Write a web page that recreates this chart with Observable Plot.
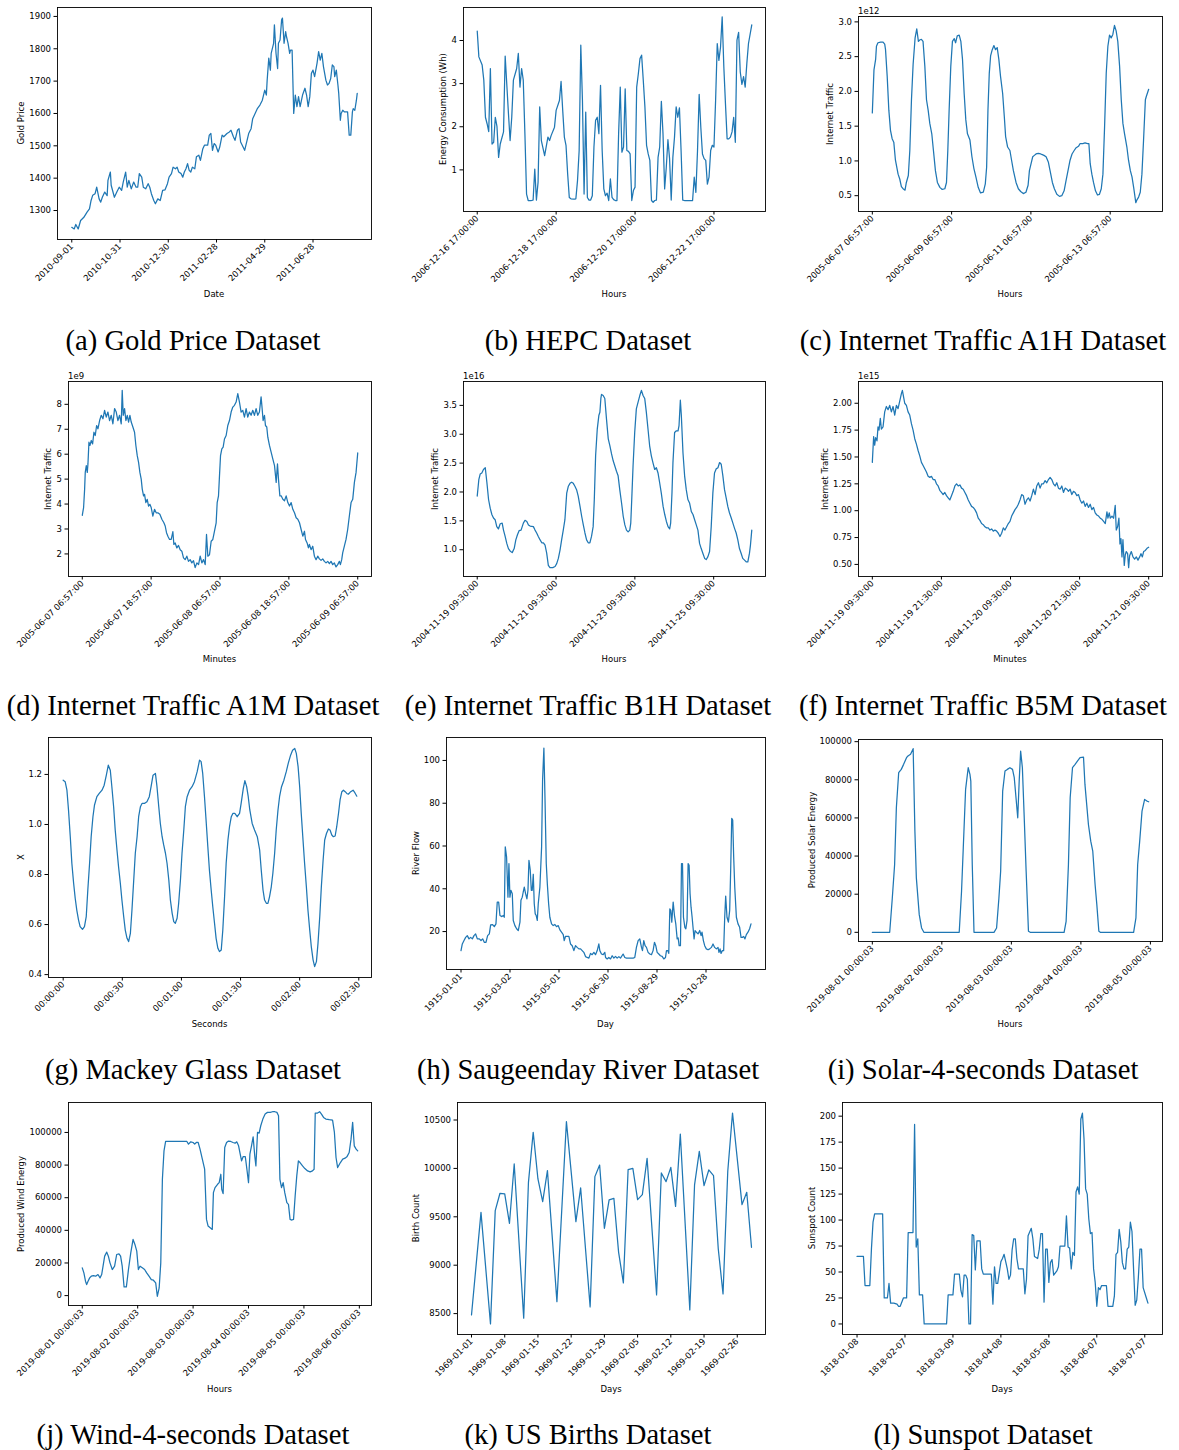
<!DOCTYPE html>
<html><head><meta charset="utf-8">
<script src="https://cdn.jsdelivr.net/npm/d3@7"></script>
<script src="https://cdn.jsdelivr.net/npm/@observablehq/plot@0.6"></script>
<style>
body{margin:0;background:#fff;}
#page{position:relative;width:1179px;height:1450px;overflow:hidden;background:#fff;}
.cap{position:absolute;width:440px;text-align:center;font-family:"Liberation Serif","Times New Roman",serif;font-size:28.6px;line-height:28px;color:#000;white-space:nowrap;}
.lbl{position:absolute;font-family:"DejaVu Sans",sans-serif;font-size:8.5px;line-height:10px;color:#000;white-space:nowrap;}
</style></head><body><div id="page"></div>
<script>
// ---------------- DATA ----------------
const goldStart = "2010-09-01";
const goldTicks = ["2010-09-01","2010-10-31","2010-12-30","2011-02-28","2011-04-29","2011-06-28"];
const goldYTicks = [1300,1400,1500,1600,1700,1800,1900];
const goldSeries = [[0,1248],[3,1243],[5,1257],[8,1243],[11,1269],[15,1279],[19,1295],[22,1305],[24,1331],[26,1347],[29,1352],[31,1372],[34,1336],[36,1326],[38,1341],[41,1357],[44,1346],[45,1393],[48,1419],[49,1378],[53,1341],[56,1357],[59,1372],[62,1362],[64,1388],[67,1419],[69,1372],[71,1393],[74,1367],[77,1388],[80,1372],[82,1372],[84,1414],[87,1403],[89,1372],[92,1367],[95,1383],[97,1372],[99,1352],[102,1331],[104,1321],[107,1336],[110,1331],[113,1362],[116,1364],[119,1383],[121,1403],[124,1414],[126,1434],[129,1429],[131,1434],[133,1419],[136,1414],[138,1403],[140,1419],[142,1429],[144,1445],[146,1424],[148,1419],[150,1434],[153,1429],[155,1466],[158,1471],[160,1455],[163,1491],[165,1502],[169,1502],[171,1533],[173,1538],[175,1486],[177,1507],[179,1502],[182,1481],[184,1496],[187,1533],[189,1528],[193,1538],[196,1543],[198,1548],[201,1528],[203,1517],[206,1548],[208,1553],[210,1512],[212,1502],[215,1486],[218,1517],[220,1538],[223,1553],[225,1584],[228,1600],[231,1616],[234,1626],[237,1641],[240,1672],[242,1657],[243,1703],[245,1771],[247,1734],[248,1786],[251,1817],[252,1874],[254,1786],[256,1739],[257,1817],[259,1827],[261,1890],[262,1895],[264,1817],[266,1853],[267,1838],[269,1817],[271,1786],[272,1796],[274,1796],[276,1600],[278,1657],[280,1621],[282,1652],[284,1621],[287,1657],[290,1678],[292,1657],[294,1621],[296,1652],[298,1724],[300,1734],[302,1714],[305,1755],[307,1791],[309,1765],[311,1786],[313,1745],[316,1703],[318,1688],[320,1693],[322,1708],[324,1750],[326,1745],[327,1714],[329,1734],[331,1688],[332,1662],[334,1579],[335,1600],[337,1610],[339,1605],[343,1605],[345,1533],[347,1533],[349,1605],[350,1615],[352,1610],[354,1641],[355,1662]];

const hepcStart = "2006-12-16 17:00:00";
const hepcTicks = ["2006-12-16 17:00:00","2006-12-18 17:00:00","2006-12-20 17:00:00","2006-12-22 17:00:00"];
const hepcYTicks = [1,2,3,4];
const hepcSeries = [[0,4.22],[1,3.62],[3,3.43],[4,3.08],[5,2.22],[6,2.07],[7,1.89],[8,3.35],[9,1.60],[10,1.64],[11,2.22],[12,2.01],[13,1.29],[14,1.60],[16,1.88],[17,3.64],[19,2.30],[20,1.68],[21,2.22],[22,3.08],[24,3.35],[25,3.70],[26,2.92],[27,3.35],[28,3.08],[29,1.84],[30,0.44],[31,0.29],[33,0.29],[34,0.30],[35,1.02],[36,0.30],[37,0.71],[38,2.46],[39,1.68],[41,1.33],[43,1.76],[44,1.68],[45,1.80],[47,1.99],[48,2.38],[50,2.61],[51,3.05],[52,2.38],[53,1.76],[54,1.57],[55,0.91],[56,0.36],[57,0.33],[59,0.32],[60,0.33],[61,0.75],[62,1.45],[63,3.89],[64,2.61],[65,0.44],[66,2.34],[67,0.36],[68,0.30],[69,0.30],[70,0.40],[71,1.53],[72,2.15],[73,2.22],[74,1.84],[75,2.96],[76,1.45],[77,0.56],[78,0.40],[79,0.46],[80,0.29],[81,0.79],[82,0.36],[83,0.31],[84,0.29],[85,0.29],[86,1.84],[87,2.92],[88,1.41],[89,1.53],[90,2.88],[91,1.45],[92,1.43],[93,1.37],[94,0.29],[95,0.52],[96,0.60],[97,2.92],[98,3.23],[99,3.58],[100,3.66],[101,3.08],[102,2.46],[103,1.57],[104,1.37],[105,1.22],[106,0.29],[107,0.25],[108,0.29],[109,0.30],[110,1.29],[111,1.53],[112,2.59],[113,1.84],[114,0.56],[115,1.06],[116,1.70],[117,1.26],[118,0.30],[119,1.29],[120,1.76],[121,2.46],[122,2.22],[123,2.44],[124,1.45],[125,0.30],[126,0.29],[128,0.29],[131,0.29],[132,0.83],[133,0.48],[134,1.45],[135,2.75],[136,1.99],[137,1.37],[138,1.26],[139,1.22],[140,0.67],[141,0.83],[142,1.45],[143,1.57],[144,1.53],[145,2.61],[146,3.93],[147,3.54],[148,3.85],[149,4.55],[150,3.39],[151,2.53],[152,1.72],[153,1.72],[154,1.76],[155,1.88],[156,2.22],[157,1.64],[158,4.01],[159,4.19],[160,3.27],[161,2.98],[162,3.16],[163,2.92],[164,3.47],[165,3.93],[167,4.36]];

const a1hStart = "2005-06-07 06:57:00";
const a1hTicks = ["2005-06-07 06:57:00","2005-06-09 06:57:00","2005-06-11 06:57:00","2005-06-13 06:57:00"];
const a1hYTicks = [0.5,1.0,1.5,2.0,2.5,3.0];
const a1hExponent = "1e12";
const a1hSeries = [[0,1.69],[1,2.31],[2,2.46],[2.5,2.65],[3.4,2.70],[5,2.71],[6.5,2.71],[7.5,2.68],[8,2.60],[9,2.22],[10,1.73],[11,1.44],[12,1.32],[13,1.27],[14,1.01],[15.6,0.81],[16.6,0.74],[17.6,0.63],[18.6,0.60],[19.8,0.58],[20.6,0.69],[21.8,0.79],[22.7,1.15],[23.7,1.88],[24.7,2.39],[25.9,2.77],[26.9,2.90],[27.9,2.72],[28.7,2.74],[29.7,2.75],[30.7,2.72],[31.8,2.36],[32.8,1.88],[33.8,1.73],[34.8,1.54],[36,1.39],[37,1.15],[38.2,0.86],[39.4,0.69],[40.9,0.62],[42.3,0.59],[43.9,0.60],[44.9,0.69],[45.7,1.15],[46.5,1.73],[47.5,2.36],[48.5,2.72],[49.6,2.76],[50.4,2.70],[51.4,2.80],[52.6,2.81],[53.6,2.72],[54.6,2.46],[55.6,1.97],[56.6,1.59],[57.6,1.39],[59.1,1.30],[60.3,1.06],[61.5,0.89],[62.7,0.77],[64.1,0.62],[65.5,0.54],[67.2,0.55],[68.4,0.67],[69.2,0.91],[70,1.73],[70.8,2.26],[71.6,2.51],[72.6,2.60],[73.6,2.66],[74.6,2.60],[75.6,2.63],[76.6,2.46],[77.6,2.22],[78.9,1.97],[79.9,1.64],[80.7,1.35],[81.9,1.20],[83.3,1.15],[84.3,1.01],[85.4,0.86],[87,0.69],[88.4,0.60],[89.8,0.56],[91.4,0.53],[93,0.55],[94.3,0.65],[95.1,0.86],[96.1,0.96],[97.1,1.06],[98.1,1.08],[99.1,1.10],[100.5,1.11],[101.9,1.10],[102.9,1.09],[103.9,1.08],[105.2,1.06],[106.6,0.98],[107.6,0.86],[109,0.69],[110.2,0.60],[111.7,0.52],[113.3,0.49],[114.7,0.50],[116.1,0.57],[117.3,0.72],[118.7,0.89],[119.7,1.01],[120.9,1.10],[122.2,1.15],[123.4,1.19],[124.8,1.21],[125.8,1.25],[127.4,1.25],[128.8,1.26],[130.3,1.25],[131.1,1.25],[131.9,0.96],[132.9,0.81],[133.9,0.69],[135.1,0.57],[136.3,0.51],[137.5,0.52],[138.6,0.60],[139.6,0.81],[140.6,1.49],[141.6,2.26],[142.6,2.65],[143.6,2.81],[144.6,2.77],[145.6,2.82],[146.6,2.95],[147.6,2.87],[148.6,2.72],[149.7,2.36],[150.7,1.88],[151.7,1.54],[152.7,1.39],[154.1,1.20],[155.1,1.01],[156.2,0.86],[157.2,0.77],[158.2,0.62],[159.5,0.40],[160.2,0.44],[161.2,0.48],[162.2,0.55],[163.2,0.81],[164.2,1.30],[165.3,1.88],[165.9,1.93],[167.3,2.03]];

const a1mStart = "2005-06-07 06:57:00";
const a1mTicks = ["2005-06-07 06:57:00","2005-06-07 18:57:00","2005-06-08 06:57:00","2005-06-08 18:57:00","2005-06-09 06:57:00"];
const a1mYTicks = [2,3,4,5,6,7,8];
const a1mExponent = "1e9";
const a1mSeries = [[0,3.55],[0.23,3.86],[0.41,4.60],[0.52,5.27],[0.7,5.54],[0.87,5.27],[0.99,5.61],[1.16,6.48],[1.33,6.35],[1.57,6.55],[1.8,6.41],[2.03,6.88],[2.26,6.75],[2.5,7.15],[2.73,7.02],[3.02,7.35],[3.31,7.56],[3.6,7.42],[3.89,7.76],[4.18,7.49],[4.47,7.69],[4.76,7.35],[5.05,7.56],[5.34,7.22],[5.63,7.83],[5.92,7.69],[6.21,7.35],[6.5,7.56],[6.79,7.22],[6.96,8.56],[7.14,7.56],[7.37,7.83],[7.6,7.35],[7.84,7.56],[8.07,7.29],[8.3,7.56],[8.53,7.29],[8.82,7.09],[9.11,6.88],[9.34,6.35],[9.58,5.94],[9.81,5.67],[10.04,5.27],[10.27,5.00],[10.45,4.60],[10.68,4.33],[10.85,4.39],[11.08,4.06],[11.32,4.19],[11.55,3.92],[11.78,3.99],[12.01,3.86],[12.3,3.52],[12.59,3.79],[12.88,3.65],[13.17,3.65],[13.52,3.59],[13.87,3.39],[14.22,3.25],[14.45,3.12],[14.68,2.85],[14.92,2.71],[15.21,2.58],[15.5,2.58],[15.79,2.89],[15.96,2.38],[16.19,2.44],[16.48,2.24],[16.77,2.34],[17.06,2.17],[17.35,2.11],[17.64,1.84],[17.93,1.77],[18.22,1.91],[18.51,1.70],[18.8,1.77],[19.09,1.64],[19.38,1.73],[19.67,1.45],[19.97,1.64],[20.26,1.57],[20.55,1.91],[20.84,1.64],[21.13,1.77],[21.42,1.57],[21.65,2.78],[21.88,1.91],[22.17,1.97],[22.46,2.51],[22.75,2.58],[23.04,2.91],[23.33,3.25],[23.51,4.06],[23.74,4.33],[23.91,5.13],[24.09,5.94],[24.32,6.21],[24.55,6.28],[24.78,6.61],[25.07,6.75],[25.36,7.15],[25.65,7.35],[25.94,7.69],[26.23,7.89],[26.52,7.96],[26.81,8.09],[27.1,8.43],[27.39,8.09],[27.68,7.69],[27.97,7.76],[28.26,7.49],[28.55,7.83],[28.84,7.49],[29.13,7.69],[29.42,7.56],[29.71,7.76],[30.0,7.56],[30.29,7.83],[30.58,7.56],[30.87,7.69],[31.16,8.30],[31.34,7.83],[31.51,7.35],[31.75,7.56],[31.92,7.15],[32.15,7.09],[32.33,6.68],[32.62,6.35],[32.91,6.08],[33.2,5.81],[33.5,5.54],[33.79,4.87],[34.02,5.61],[34.19,5.00],[34.43,4.33],[34.66,4.33],[34.95,4.19],[35.24,4.13],[35.53,4.33],[35.82,4.06],[36.11,3.92],[36.4,4.06],[36.69,3.79],[36.98,3.65],[37.27,3.45],[37.56,3.39],[37.85,3.25],[38.14,2.98],[38.43,2.71],[38.72,2.91],[38.9,2.58],[39.18,2.44],[39.41,2.24],[39.58,2.38],[39.87,2.17],[40.16,2.31],[40.45,1.91],[40.74,1.77],[41.03,1.91],[41.32,1.80],[41.61,1.74],[41.9,1.80],[42.19,1.70],[42.48,1.64],[42.77,1.70],[43.06,1.61],[43.35,1.70],[43.64,1.57],[43.93,1.64],[44.22,1.48],[44.51,1.57],[44.8,1.70],[44.98,1.57],[45.21,1.77],[45.38,2.04],[45.67,2.31],[45.96,2.58],[46.25,2.98],[46.54,3.52],[46.84,4.06],[47.13,4.19],[47.42,4.87],[47.71,5.27],[48.0,6.05]];

const b1hStart = "2004-11-19 09:30:00";
const b1hTicks = ["2004-11-19 09:30:00","2004-11-21 09:30:00","2004-11-23 09:30:00","2004-11-25 09:30:00"];
const b1hYTicks = [1.0,1.5,2.0,2.5,3.0,3.5];
const b1hExponent = "1e16";
const b1hSeries = [[0,1.93],[1,2.22],[1.8,2.31],[2.8,2.33],[3.8,2.39],[4.9,2.42],[5.9,2.16],[6.9,1.87],[7.9,1.72],[8.9,1.61],[9.9,1.55],[10.9,1.52],[11.9,1.40],[12.9,1.36],[14,1.45],[15.2,1.46],[16,1.34],[17,1.23],[18,1.11],[19,1.02],[20,0.98],[21.3,0.95],[22.5,1.02],[23.5,1.17],[24.5,1.26],[25.5,1.33],[26.7,1.34],[28.1,1.46],[29.1,1.51],[30.2,1.49],[31.2,1.43],[32.2,1.41],[34.2,1.40],[35.2,1.34],[36.2,1.29],[37.2,1.23],[38.3,1.17],[39.3,1.12],[40.3,1.12],[41.3,1.08],[42.3,0.94],[43.3,0.73],[44.3,0.69],[46,0.69],[47.4,0.71],[48.4,0.76],[49.4,0.85],[50.4,0.99],[51.4,1.17],[52.4,1.34],[53.4,1.52],[54.5,1.98],[55.5,2.10],[56.5,2.15],[57.5,2.17],[58.5,2.15],[59.5,2.10],[60.5,2.04],[61.5,1.93],[62.6,1.75],[63.6,1.58],[64.6,1.43],[65.6,1.29],[66.6,1.17],[67.6,1.12],[68.6,1.12],[69.6,1.23],[70.6,1.40],[71.3,1.87],[72.1,2.63],[73.1,3.09],[74.1,3.33],[74.7,3.38],[75.3,3.62],[75.7,3.69],[76.7,3.67],[77.7,3.62],[78.7,3.27],[79.8,2.92],[80.8,2.80],[81.8,2.66],[82.8,2.54],[83.8,2.45],[84.8,2.36],[85.8,2.28],[86.8,2.04],[87.9,1.81],[88.9,1.58],[89.9,1.43],[90.9,1.34],[91.9,1.31],[92.9,1.34],[93.5,1.46],[94.1,1.87],[94.9,2.45],[95.9,3.03],[96.9,3.44],[98,3.56],[99,3.67],[100,3.76],[101,3.67],[102,3.62],[103,3.38],[104,3.09],[105,2.80],[106,2.63],[107,2.51],[108.1,2.39],[109.1,2.42],[110.1,2.33],[111.1,2.16],[112.1,1.98],[113.2,1.75],[114.2,1.61],[115.2,1.49],[116.2,1.40],[117.2,1.36],[117.8,1.46],[118.6,1.98],[119.2,2.51],[120.2,3.03],[121.3,3.06],[122.3,3.06],[122.9,3.15],[123.7,3.59],[124.3,3.33],[125.3,2.68],[126.3,2.28],[127.3,2.04],[128.3,1.87],[129.3,1.81],[130.4,1.66],[131.4,1.61],[132.4,1.52],[133.4,1.43],[134.4,1.34],[135.4,1.11],[136.4,1.02],[137.4,0.94],[138.5,0.85],[139.5,0.83],[140.5,0.88],[141.5,0.97],[142.5,1.40],[143.5,1.98],[144.5,2.33],[145.5,2.40],[146.6,2.42],[147.6,2.51],[148.6,2.48],[149.6,2.28],[150.6,2.04],[151.6,1.90],[152.6,1.75],[153.6,1.64],[154.7,1.55],[155.7,1.46],[156.7,1.37],[157.7,1.29],[158.7,1.17],[159.7,1.02],[160.7,0.94],[161.7,0.85],[162.8,0.82],[163.8,0.79],[164.8,0.79],[165.8,0.94],[166.4,1.08],[167.2,1.34]];

const b5mStart = "2004-11-19 09:30:00";
const b5mTicks = ["2004-11-19 09:30:00","2004-11-19 21:30:00","2004-11-20 09:30:00","2004-11-20 21:30:00","2004-11-21 09:30:00"];
const b5mYTicks = [0.5,0.75,1.0,1.25,1.5,1.75,2.0];
const b5mExponent = "1e15";
const b5mSeries = [[0,1.45],[0.23,1.69],[0.41,1.61],[0.58,1.68],[0.81,1.65],[0.99,1.78],[1.16,1.75],[1.39,1.86],[1.57,1.76],[1.86,1.78],[2.15,1.92],[2.44,1.97],[2.73,1.94],[3.02,1.98],[3.31,1.92],[3.6,1.97],[3.89,1.89],[4.18,1.98],[4.47,1.95],[4.76,2.02],[5.05,2.09],[5.22,2.12],[5.46,2.05],[5.63,2.00],[5.92,1.98],[6.21,1.92],[6.5,1.89],[6.79,1.81],[7.08,1.75],[7.37,1.67],[7.66,1.62],[7.95,1.56],[8.24,1.51],[8.53,1.45],[8.82,1.42],[9.11,1.39],[9.4,1.36],[9.69,1.32],[9.98,1.31],[10.27,1.32],[10.56,1.29],[10.85,1.29],[11.14,1.25],[11.43,1.23],[11.72,1.19],[12.01,1.17],[12.3,1.15],[12.59,1.17],[12.88,1.14],[13.17,1.12],[13.46,1.10],[13.75,1.14],[14.05,1.18],[14.34,1.23],[14.63,1.25],[14.92,1.23],[15.21,1.24],[15.5,1.21],[15.79,1.20],[16.08,1.17],[16.37,1.14],[16.66,1.10],[16.95,1.07],[17.24,1.04],[17.53,1.03],[17.82,1.01],[18.11,0.98],[18.4,0.93],[18.69,0.91],[18.98,0.88],[19.27,0.87],[19.56,0.85],[19.85,0.84],[20.14,0.84],[20.43,0.82],[20.72,0.83],[21.01,0.81],[21.3,0.82],[21.59,0.81],[21.88,0.79],[22.17,0.76],[22.46,0.79],[22.75,0.84],[23.04,0.82],[23.33,0.85],[23.62,0.88],[23.91,0.90],[24.2,0.95],[24.49,0.98],[24.78,1.01],[25.07,1.03],[25.36,1.06],[25.65,1.10],[25.94,1.15],[26.23,1.14],[26.52,1.06],[26.82,1.10],[27.11,1.12],[27.4,1.09],[27.69,1.14],[27.98,1.20],[28.27,1.15],[28.56,1.23],[28.85,1.26],[29.14,1.21],[29.43,1.25],[29.72,1.25],[30.01,1.28],[30.3,1.26],[30.59,1.29],[30.88,1.31],[31.17,1.29],[31.46,1.25],[31.75,1.23],[32.04,1.26],[32.33,1.21],[32.62,1.20],[32.91,1.23],[33.2,1.17],[33.49,1.21],[33.78,1.20],[34.07,1.18],[34.36,1.20],[34.65,1.15],[34.94,1.18],[35.23,1.17],[35.52,1.14],[35.81,1.15],[36.1,1.10],[36.39,1.07],[36.68,1.09],[36.97,1.04],[37.26,1.07],[37.55,1.03],[37.84,1.06],[38.13,1.01],[38.42,1.03],[38.71,0.98],[39.0,0.96],[39.3,0.95],[39.59,0.93],[39.88,0.92],[40.17,0.90],[40.46,0.88],[40.75,0.99],[40.92,0.93],[41.15,0.98],[41.33,0.93],[41.62,0.95],[41.91,0.93],[42.19,1.05],[42.37,0.82],[42.6,0.85],[42.83,0.93],[43.01,0.69],[43.18,0.74],[43.36,0.57],[43.53,0.73],[43.76,0.49],[43.94,0.59],[44.11,0.62],[44.34,0.60],[44.52,0.47],[44.69,0.58],[44.98,0.62],[45.27,0.57],[45.56,0.55],[45.85,0.57],[46.14,0.54],[46.43,0.57],[46.66,0.60],[46.9,0.57],[47.13,0.62],[47.42,0.63],[47.71,0.65],[48.0,0.66]];

const mgTicks = ["00:00:00","00:00:30","00:01:00","00:01:30","00:02:00","00:02:30"];
const mgYTicks = [0.4,0.6,0.8,1.0,1.2];
const mgSeries = [[0,1.177],[1,1.171],[1.9,1.137],[2.7,1.058],[3.6,0.951],[4.4,0.845],[5.3,0.765],[6.1,0.705],[6.9,0.658],[7.8,0.618],[8.6,0.592],[9.8,0.581],[10.8,0.592],[11.7,0.632],[12.5,0.738],[13.4,0.845],[14.2,0.951],[15.1,1.031],[15.9,1.078],[17.1,1.111],[18.3,1.124],[19.7,1.137],[20.8,1.157],[21.9,1.197],[22.9,1.237],[23.9,1.217],[24.7,1.151],[25.6,1.071],[26.4,0.978],[27.3,0.898],[28.1,0.831],[29.0,0.765],[29.8,0.698],[30.7,0.632],[31.5,0.578],[32.4,0.545],[33.2,0.532],[34.1,0.565],[34.9,0.658],[35.8,0.778],[36.6,0.885],[37.5,0.951],[38.3,1.031],[39.2,1.071],[40.0,1.084],[41.2,1.084],[42.5,1.091],[43.7,1.111],[44.6,1.151],[45.6,1.197],[46.8,1.204],[47.6,1.151],[48.5,1.071],[49.3,1.004],[50.2,0.951],[51.0,0.918],[51.9,0.885],[52.7,0.845],[53.6,0.778],[54.4,0.698],[55.3,0.645],[56.1,0.612],[56.9,0.605],[57.8,0.625],[58.6,0.685],[59.5,0.778],[60.3,0.885],[61.2,0.978],[62.0,1.071],[62.9,1.111],[64.1,1.137],[65.4,1.151],[66.6,1.171],[68.0,1.211],[69.2,1.257],[70.0,1.251],[70.8,1.204],[71.7,1.111],[72.5,1.018],[73.4,0.911],[74.2,0.818],[75.1,0.738],[75.9,0.672],[76.8,0.605],[77.6,0.545],[78.5,0.505],[79.3,0.492],[80.2,0.498],[81.0,0.578],[81.9,0.711],[82.7,0.845],[83.6,0.938],[84.4,0.991],[85.3,1.031],[86.1,1.044],[87.1,1.044],[88.3,1.031],[89.5,1.044],[90.3,1.084],[91.4,1.144],[92.2,1.175],[93.1,1.151],[93.9,1.111],[94.7,1.058],[95.9,1.004],[97.1,0.978],[98.5,0.951],[99.7,0.898],[100.5,0.818],[101.4,0.738],[102.2,0.698],[103.1,0.685],[103.9,0.685],[104.7,0.711],[105.6,0.751],[106.4,0.805],[107.3,0.885],[108.1,0.978],[109.0,1.058],[109.8,1.111],[110.8,1.151],[112.0,1.177],[113.2,1.211],[114.2,1.244],[115.4,1.277],[116.4,1.297],[117.5,1.304],[118.3,1.284],[119.2,1.231],[120.0,1.151],[120.8,1.044],[121.7,0.938],[122.5,0.845],[123.4,0.751],[124.2,0.658],[125.1,0.578],[125.9,0.512],[126.8,0.459],[127.6,0.432],[128.5,0.452],[129.3,0.525],[130.2,0.632],[131.0,0.751],[131.9,0.858],[132.7,0.938],[133.6,0.964],[134.6,0.982],[135.4,0.978],[136.3,0.958],[137.1,0.951],[138.0,0.954],[138.8,0.991],[139.7,1.044],[140.5,1.098],[141.4,1.131],[142.2,1.137],[143.1,1.131],[143.9,1.124],[144.7,1.121],[145.9,1.131],[147.1,1.137],[148.0,1.127],[149.0,1.113]];

const riverStart = "1915-01-01";
const riverTicks = ["1915-01-01","1915-03-02","1915-05-01","1915-06-30","1915-08-29","1915-10-28"];
const riverYTicks = [20,40,60,80,100];
const riverSeries = [[0,11.1],[1.6,14.2],[3.7,15.8],[5.7,17.3],[7.7,18.1],[9.8,16.6],[11.8,17.3],[13.9,16.6],[15.9,18.1],[17.9,18.9],[20,16.6],[22.4,16.6],[24.5,15.8],[26.5,16.6],[28.5,15.0],[30.6,15.0],[32.6,18.1],[34.7,18.9],[36.3,23.1],[38.7,23.3],[40.8,22.3],[42.8,23.6],[44.4,33.8],[46.1,33.8],[47.7,27.5],[50.1,27.0],[51.8,27.5],[53,26.7],[54.2,59.6],[55.8,54.9],[57.5,36.1],[58.7,51.8],[59.9,36.1],[61.1,39.3],[62.8,37.7],[64,25.2],[66,22.8],[68.1,21.3],[70.1,20.5],[72.2,24.4],[73.4,34.6],[75,36.1],[76.2,38.5],[77.5,40.8],[79.1,37.7],[80.7,35.3],[82,39.3],[83.2,53.3],[84.8,48.7],[86.1,39.3],[87.2,39.3],[88.5,46.8],[89.7,33.0],[90.9,28.3],[92.1,27.5],[93.4,25.2],[94.6,33.0],[96.6,40.8],[98.7,59.6],[99.9,90.9],[101.5,105.8],[102.8,83.1],[104.4,51.8],[105.7,42.4],[107.3,33.0],[108.8,26.7],[110.9,23.6],[112.9,22.8],[115,23.3],[117,22.3],[119,22.8],[121.1,20.8],[123.1,19.7],[125.2,18.6],[126.4,15.8],[128,17.8],[130,17.8],[132.1,17.8],[134.1,14.2],[136.2,13.4],[138.2,11.1],[140.2,13.4],[142.3,12.6],[144.3,11.9],[146.4,11.9],[148.4,11.1],[150.4,10.3],[152.5,8.3],[154.5,7.9],[156.6,7.6],[158.6,9.8],[160.6,9.2],[162.7,10.3],[164.7,9.2],[166.8,11.1],[168.8,14.2],[170,11.1],[172,9.5],[174.1,9.2],[176.1,10.3],[177,7.9],[179,7.2],[181,7.9],[183.1,7.2],[185.1,8.7],[187.2,7.6],[189.2,8.4],[191.2,7.6],[193.3,8.3],[195.3,7.6],[198.5,9.5],[200.6,7.9],[202.6,7.6],[206.7,7.6],[210.8,7.6],[212.8,7.9],[214.8,12.6],[216.9,15.8],[218.9,16.6],[221,12.6],[222.2,11.1],[223.8,15.8],[225.4,13.4],[227.1,12.6],[229.1,10.3],[231.2,9.5],[233.2,9.2],[235.2,11.1],[236.9,15.0],[238.5,13.4],[240.2,10.3],[242.2,9.5],[244.2,8.7],[246.3,8.4],[248.3,7.2],[250.4,7.9],[251.6,11.1],[253.2,11.1],[254.4,9.8],[255.7,30.6],[256.9,29.9],[258.1,24.4],[259.8,33.8],[261.4,27.5],[263,23.6],[264.7,16.6],[265.9,17.0],[267.1,13.4],[268.7,13.4],[270,51.8],[271.2,51.8],[272.4,26.7],[274.1,22.0],[275.3,21.3],[276.8,25.2],[278.1,51.8],[279.3,51.0],[280.5,37.7],[281.7,31.4],[283,26.7],[284.1,22.0],[285.4,16.6],[286.6,20.5],[288.2,19.7],[290.3,18.9],[292.3,20.5],[294,18.1],[295.1,19.7],[296.8,15.8],[298.4,13.4],[300.4,11.9],[302.5,11.5],[304.5,11.9],[306.6,12.6],[308.6,14.2],[310.6,12.6],[312.7,11.9],[314.7,12.6],[315.9,10.3],[317.2,11.9],[318.4,9.8],[320,11.1],[321.6,11.1],[322.9,26.7],[324.1,36.6],[325.7,26.7],[327.4,24.4],[329,29.9],[330.2,48.7],[331.5,72.9],[332.7,72.1],[333.9,54.9],[335.2,40.8],[337.2,26.7],[339.2,23.6],[341.2,22.0],[342.9,17.3],[344.5,17.3],[346.2,17.7],[347.7,16.6],[349.4,18.6],[351.4,19.7],[353.4,21.3],[355.1,23.6]];

const solarStart = "2019-08-01 00:00:03";
const solarTicks = ["2019-08-01 00:00:03","2019-08-02 00:00:03","2019-08-03 00:00:03","2019-08-04 00:00:03","2019-08-05 00:00:03"];
const solarYTicks = [0,20000,40000,60000,80000,100000];
const solarSeries = [[0,0],[6,0],[6.9,18040],[7.7,35550],[8.3,65320],[9.1,83710],[10,85460],[10.8,88090],[11.8,91590],[12.3,92470],[13.2,93350],[14.1,96320],[14.7,53060],[15.2,28550],[16.2,9280],[17,2280],[17.8,0],[18.7,0],[30,0],[30.8,21540],[31.4,44310],[32.2,74960],[33.1,86340],[33.7,82840],[34,79330],[34.5,35550],[35.1,0],[36,0],[42,0],[42.9,2280],[43.7,18040],[44.3,32050],[45,74080],[45.8,84590],[46.6,85460],[47.5,86340],[48.4,85460],[49,81090],[49.6,70580],[50.2,60070],[50.7,79330],[51.2,95100],[51.8,86340],[52.4,61820],[53.1,32050],[53.9,530],[54.5,0],[55.6,0],[66.2,0],[66.9,5780],[67.7,35550],[68.3,70580],[69.1,86340],[70,88090],[70.8,89840],[71.7,91590],[72.9,91940],[73.4,77580],[74,67080],[74.6,56570],[75.4,47810],[76.1,42560],[76.9,25040],[77.5,14540],[78.2,530],[78.7,0],[79.8,0],[90.2,0],[91,7530],[91.6,35550],[92.3,47810],[93.1,63570],[94,69700],[94.8,68830],[95.4,68480]];

const windStart = "2019-08-01 00:00:03";
const windTicks = ["2019-08-01 00:00:03","2019-08-02 00:00:03","2019-08-03 00:00:03","2019-08-04 00:00:03","2019-08-05 00:00:03","2019-08-06 00:00:03"];
const windYTicks = [0,20000,40000,60000,80000,100000];
const windSeries = [[0,17010],[0.7,13930],[1.4,8810],[1.9,6760],[2.5,8810],[3.2,10860],[3.9,11890],[4.8,12300],[5.8,11890],[6.8,12910],[7.7,10860],[8.4,12910],[9,18030],[9.7,24180],[10.6,26640],[11.3,24180],[12,20080],[13,15980],[14,18030],[14.9,25200],[15.9,25610],[16.6,24180],[17.3,18030],[18.1,5330],[19.1,5330],[20,15980],[21,26230],[22,34430],[22.8,31350],[23.6,27250],[24.3,15980],[25,18030],[26,17010],[27,15980],[27.9,13930],[28.9,11890],[29.9,9840],[30.8,9430],[31.8,7790],[32.5,-410],[33.3,4710],[34,20080],[34.7,71310],[35.4,88730],[36.1,94470],[37.6,94470],[39.8,94470],[42.6,94470],[45.3,94470],[46,92830],[47,94260],[48,93850],[48.7,92830],[49.4,93850],[50.2,93850],[51,89750],[52,83610],[53,77460],[53.8,46720],[54.5,42620],[55.4,41600],[56.3,40570],[56.8,63110],[57.5,66190],[58.6,68240],[59.3,69260],[60,74380],[60.4,65160],[61,62500],[61.7,90780],[62.5,93850],[63.2,94670],[64.3,94470],[65.3,93850],[66.2,93440],[66.9,94260],[67.7,91800],[68.4,86680],[69,82580],[69.7,85250],[70.6,85250],[71.3,77460],[72,69260],[72.6,86680],[73.3,91800],[74,97340],[74.7,85660],[75.2,79510],[75.9,100000],[76.6,99590],[77.3,104100],[78.2,108200],[79.2,111270],[80.2,112300],[81.4,112300],[82.4,112700],[83.4,112700],[84.3,112300],[85,110250],[85.6,71310],[86.3,66190],[87,69260],[87.7,63110],[88.6,56970],[89.3,55940],[90,46720],[90.8,46310],[91.5,46720],[92.2,61070],[92.9,73360],[93.6,82580],[94.3,81560],[95.4,79510],[96.4,77870],[97.6,76430],[98.7,75820],[99.7,76430],[100.4,77460],[100.9,111890],[101.9,111890],[102.8,112700],[103.6,111270],[104.5,109220],[105.5,108200],[107,107790],[108.4,107580],[109.2,100000],[109.9,84630],[110.6,78480],[111.8,81560],[112.8,83610],[113.8,84220],[114.6,85040],[115.6,87700],[116.4,95900],[117.1,106150],[117.8,91800],[118.6,89750],[119.3,88730]];

const birthStart = "1969-01-01";
const birthTicks = ["1969-01-01","1969-01-08","1969-01-15","1969-01-22","1969-01-29","1969-02-05","1969-02-12","1969-02-19","1969-02-26"];
const birthYTicks = [8500,9000,9500,10000,10500];
const birthSeries = [[0,8486],[2,9546],[4,8393],[5,9564],[6,9743],[7,9736],[8,9433],[9,10046],[11,8452],[12,9856],[13,10373],[14,9891],[15,9657],[16,9977],[18,8624],[20,10483],[22,9450],[23,9798],[25,8569],[26,9915],[27,10035],[28,9381],[29,9674],[30,9691],[31,9133],[32,8817],[33,9987],[34,10001],[35,9677],[36,9729],[37,10104],[39,8693],[40,9953],[41,9863],[42,10011],[43,9608],[44,10355],[46,8538],[47,9829],[48,10176],[49,9822],[50,9984],[51,9925],[52,9168],[53,8703],[54,9970],[55,10572],[57,9626],[58,9753],[59,9185]];

const sunStart = "1818-01-08";
const sunTicks = ["1818-01-08","1818-02-07","1818-03-09","1818-04-08","1818-05-08","1818-06-07","1818-07-07"];
const sunYTicks = [0,25,50,75,100,125,150,175,200];
const sunSeries = [[0,65],[4,65],[5,37],[8,37],[9,72],[10,98],[11,106],[16,106],[17,25],[19,25],[20,39],[21,20],[23,20],[25,19],[26,17],[27,17],[29,25],[31,25],[32,88],[35,88],[36,192],[37,74],[38,82],[39,28],[41,28],[42,0],[56,0],[57,28],[60,28],[61,48],[64,48],[65,32],[66,26],[67,47],[68,47],[69,43],[70,0],[71,0],[72,86],[73,85],[74,52],[75,80],[77,80],[78,53],[79,48],[84,48],[85,19],[86,55],[87,39],[88,39],[90,60],[91,63],[92,67],[94,53],[95,43],[96,47],[97,71],[98,82],[99,82],[100,63],[101,53],[104,53],[105,29],[106,43],[107,85],[109,92],[110,82],[111,65],[113,63],[114,72],[115,87],[116,87],[117,21],[118,72],[119,72],[120,40],[121,59],[122,62],[123,47],[125,51],[126,55],[127,75],[130,75],[131,104],[132,74],[133,73],[134,53],[135,69],[136,66],[137,127],[138,132],[139,125],[140,197],[141,203],[142,178],[143,130],[144,125],[145,101],[146,87],[147,88],[148,53],[149,40],[150,17],[151,35],[152,33],[153,37],[156,37],[157,17],[160,17],[161,27],[162,67],[163,69],[164,91],[165,79],[166,59],[167,53],[168,53],[169,72],[170,74],[171,98],[172,89],[173,53],[174,18],[175,23],[176,45],[177,72],[178,72],[179,35],[181,25],[182,20]];

const captions = ["(a) Gold Price Dataset","(b) HEPC Dataset","(c) Internet Traffic A1H Dataset","(d) Internet Traffic A1M Dataset","(e) Internet Traffic B1H Dataset","(f) Internet Traffic B5M Dataset","(g) Mackey Glass Dataset","(h) Saugeenday River Dataset","(i) Solar-4-seconds Dataset","(j) Wind-4-seconds Dataset","(k) US Births Dataset","(l) Sunspot Dataset"];
const yLabels = ["Gold Price","Energy Consumption (Wh)","Internet Traffic","Internet Traffic","Internet Traffic","Internet Traffic","X","River Flow","Produced Solar Energy","Produced Wind Energy","Birth Count","Sunspot Count"];
const xLabels = ["Date","Hours","Hours","Minutes","Hours","Minutes","Seconds","Day","Hours","Hours","Days","Days"];

// ---------------- RENDER ----------------
const HOUR = 3600e3, DAY = 86400e3;
const toMs = s => Date.parse(s.length > 10 ? s.replace(" ", "T") + "Z" : s + "T00:00:00Z");
const hms = s => { const [h, m, sec] = s.split(":").map(Number); return h * 3600 + m * 60 + sec; };
const f1 = d3.format(".1f"), f2 = d3.format(".2f"), fi = d => String(d);

const panels = [
  {series: goldSeries, start: goldStart, unit: DAY, xTicks: goldTicks, yTicks: goldYTicks, yFmt: fi, frame: [57,7,371,239], yLX: 21},
  {series: hepcSeries, start: hepcStart, unit: HOUR, xTicks: hepcTicks, yTicks: hepcYTicks, yFmt: fi, frame: [463,7,765,211], yLX: 443},
  {series: a1hSeries, start: a1hStart, unit: HOUR, xTicks: a1hTicks, yTicks: a1hYTicks, yFmt: f1, frame: [858,16,1162,211], yLX: 830, exp: a1hExponent},
  {series: a1mSeries, start: a1mStart, unit: HOUR, xTicks: a1mTicks, yTicks: a1mYTicks, yFmt: fi, frame: [68,381,371,576], yLX: 48, exp: a1mExponent},
  {series: b1hSeries, start: b1hStart, unit: HOUR, xTicks: b1hTicks, yTicks: b1hYTicks, yFmt: f1, frame: [463,381,765,576], yLX: 435, exp: b1hExponent},
  {series: b5mSeries, start: b5mStart, unit: HOUR, xTicks: b5mTicks, yTicks: b5mYTicks, yFmt: f2, frame: [858,381,1162,576], yLX: 825, exp: b5mExponent},
  {series: mgSeries, start: null, unit: 1, xTicks: mgTicks, yTicks: mgYTicks, yFmt: f1, frame: [48,737,371,977], yLX: 21},
  {series: riverSeries, start: riverStart, unit: DAY, xTicks: riverTicks, yTicks: riverYTicks, yFmt: fi, frame: [446,737,765,969], yLX: 416},
  {series: solarSeries, start: solarStart, unit: HOUR, xTicks: solarTicks, yTicks: solarYTicks, yFmt: fi, frame: [858,739,1162,941], yLX: 812},
  {series: windSeries, start: windStart, unit: HOUR, xTicks: windTicks, yTicks: windYTicks, yFmt: fi, frame: [68,1102,371,1305], yLX: 21},
  {series: birthSeries, start: birthStart, unit: DAY, xTicks: birthTicks, yTicks: birthYTicks, yFmt: fi, frame: [457,1102,765,1334], yLX: 416},
  {series: sunSeries, start: sunStart, unit: DAY, xTicks: sunTicks, yTicks: sunYTicks, yFmt: fi, frame: [842,1102,1162,1334], yLX: 812}
];
const colCenters = [193, 588, 983];
const rowCaptionY = [341, 706, 1070, 1435];
const rowXLabelY = [294, 659, 1024, 1389];

const page = document.getElementById("page");
function addDiv(cls, text, css) {
  const d = document.createElement("div");
  d.className = cls; d.textContent = text;
  Object.assign(d.style, css);
  page.appendChild(d);
}

panels.forEach((p, k) => {
  const t0 = p.start ? toMs(p.start) : 0;
  const data = p.series.map(([o, v]) => ({x: t0 + o * p.unit, y: v}));
  const tickVals = p.xTicks.map(p.start ? toMs : hms);
  const fmt = new Map(tickVals.map((t, i) => [t, p.xTicks[i]]));
  const [xmin, xmax] = d3.extent(data, d => d.x);
  const [ymin, ymax] = d3.extent(data, d => d.y);
  const px = 0.05 * (xmax - xmin), py = 0.05 * (ymax - ymin);
  const [fx0, fy0, fx1, fy1] = p.frame;
  const mL = 72, mR = 24, mT = 14, mB = 95;
  const svg = Plot.plot({
    width: fx1 - fx0 + mL + mR, height: fy1 - fy0 + mT + mB,
    marginLeft: mL, marginRight: mR, marginTop: mT, marginBottom: mB,
    style: {fontFamily: "DejaVu Sans, sans-serif", fontSize: "8.5px", color: "#000", background: "transparent", overflow: "visible"},
    x: {type: "linear", domain: [xmin - px, xmax + px], ticks: tickVals, tickFormat: d => fmt.get(d), tickRotate: -45, tickSize: 3.5, tickPadding: 2, label: null},
    y: {type: "linear", domain: [ymin - py, ymax + py], ticks: p.yTicks, tickFormat: p.yFmt, tickSize: 3.5, tickPadding: 3, label: null},
    marks: [
      Plot.line(data, {x: "x", y: "y", stroke: "#1f77b4", strokeWidth: 1.25}),
      Plot.frame({stroke: "#000", strokeWidth: 0.9})
    ]
  });
  svg.style.position = "absolute";
  svg.style.left = (fx0 - mL) + "px";
  svg.style.top = (fy0 - mT) + "px";
  page.appendChild(svg);

  const row = Math.floor(k / 3), col = k % 3;
  addDiv("lbl", xLabels[k], {left: ((fx0 + fx1) / 2) + "px", top: rowXLabelY[row] + "px", transform: "translate(-50%,-50%)"});
  addDiv("lbl", yLabels[k], {left: p.yLX + "px", top: ((fy0 + fy1) / 2) + "px", transform: "translate(-50%,-50%) rotate(-90deg)"});
  if (p.exp) addDiv("lbl", p.exp, {left: fx0 + "px", top: (fy0 - 10) + "px"});
  addDiv("cap", captions[k], {left: (colCenters[col] - 220) + "px", top: (rowCaptionY[row] - 14) + "px"});
});
</script></body></html>
